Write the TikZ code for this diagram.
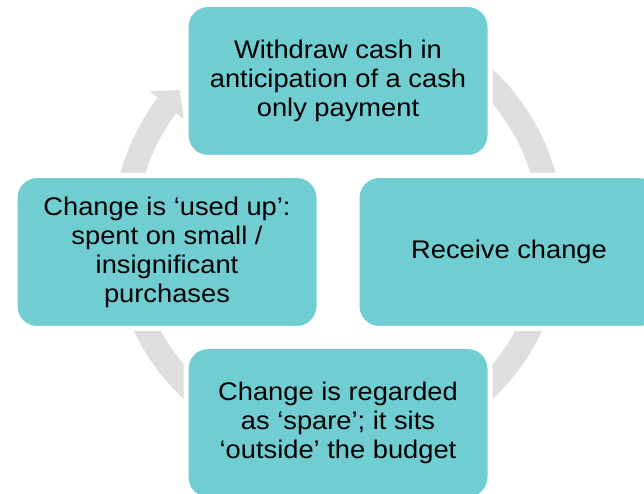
\documentclass[tikz,border=0pt]{standalone}
\usepackage{fontspec}
\setmainfont{Liberation Sans}[FakeStretch=1.07]
\usetikzlibrary{arrows.meta,bending}
\definecolor{cycleteal}{RGB}{112,206,210}
\definecolor{cyclegrey}{RGB}{222,222,222}
\tikzset{
  stagebox/.style={rectangle,rounded corners=22pt,fill=cycleteal,draw=white,
    line width=5pt,minimum width=304pt,minimum height=153pt,inner sep=0pt,
    align=center,font=\fontsize{25.5}{29}\selectfont},
  cyclering/.style={draw=cyclegrey,line width=24pt,
    -{Triangle[length=20pt,width=44pt,line width=0pt,flex]}}
}

\begin{document}
\begin{tikzpicture}[x=1pt,y=1pt]
  \useasboundingbox (0,0) rectangle (644,494);
  \clip (0,0) rectangle (644,494);
  \coordinate (hub) at (338,242);
  \coordinate (ringc) at (338,260);
  % grey cycle arrow behind the stages
  \draw[cyclering] ([shift={(60:214)}]ringc) arc[start angle=60,end angle=-222.3,radius=214];
  \node[stagebox] (withdraw) at ([yshift=171pt]hub) {Withdraw cash in\\anticipation of a cash\\only payment};
  \node[stagebox] (receive) at ([xshift=171pt]hub) {Receive change};
  \node[stagebox] (spare) at ([yshift=-171pt]hub) {Change is regarded\\as ‘spare’; it sits\\‘outside’ the budget};
  \node[stagebox] (usedup) at ([xshift=-171pt]hub) {Change is ‘used up’:\\spent on small /\\insignificant\\purchases};
\end{tikzpicture}
\end{document}
